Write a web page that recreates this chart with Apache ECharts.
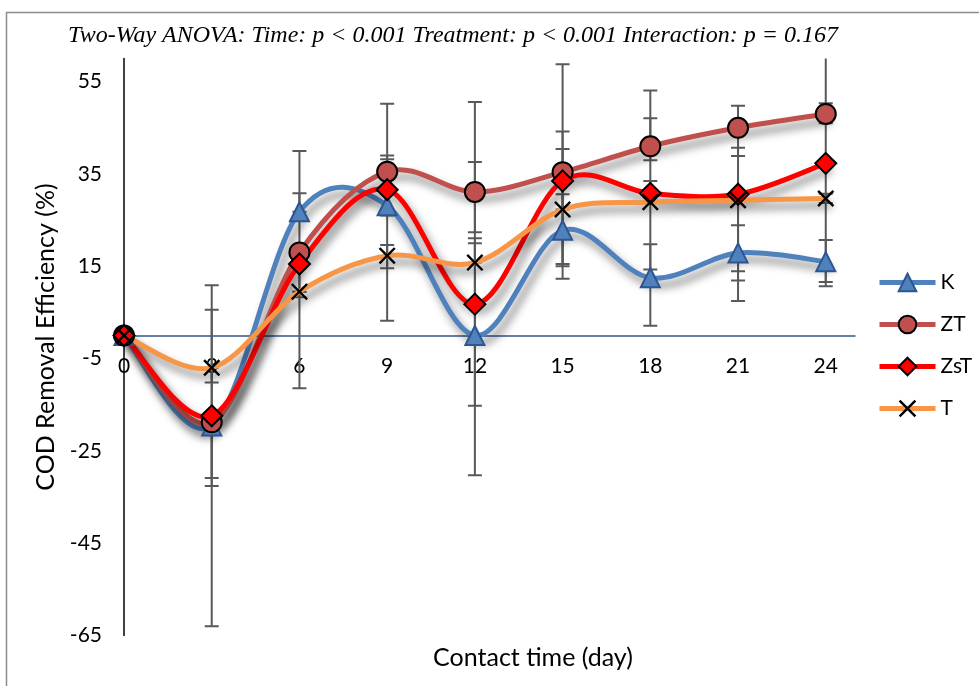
<!DOCTYPE html>
<html>
<head>
<meta charset="utf-8">
<script src="https://cdn.jsdelivr.net/npm/echarts@6/dist/echarts.min.js"></script>
<style>html,body{margin:0;padding:0;background:#fff}#c{width:979px;height:686px}</style>
</head>
<body>
<div id="c"></div>
<script>
var days = [0, 3, 6, 9, 12, 15, 18, 21, 24];
var seriesNames = ['K', 'ZT', 'ZsT', 'T'];
var K   = [0, -19.6, 26.8, 28.1, 0.0, 22.8, 12.5, 17.9, 16.0];
var ZT  = [0, -18.8, 18.0, 35.5, 31.1, 35.4, 41.0, 45.0, 48.0];
var ZsT = [0, -17.4, 15.5, 31.6, 6.8, 33.5, 30.8, 30.6, 37.3];
var T   = [0, -7.0, 9.5, 17.3, 15.8, 27.3, 28.9, 29.3, 29.7];
// error bar ends (low / high)
var K_low   = [0, -63.0, 26.8, 3.2, -30.3, 12.3, 2.1, 7.5, 10.7];
var K_high  = [0, 10.9, 40.0, 50.2, 37.6, 30.6, 19.8, 23.9, 20.7];
var ZT_low  = [0, -32.6, 8.3, 31.7, 22.4, 15.0, 38.0, 38.9, 46.0];
var ZT_high = [0, 5.6, 30.8, 39.0, 50.6, 58.8, 47.1, 49.8, 50.3];
var ZsT_low = [0, -30.9, -11.4, 26.0, -15.2, 15.5, 30.8, 13.9, 11.6];
var ZsT_high= [0, -17.4, 15.5, 38.2, 21.1, 44.2, 53.1, 40.7, 63.0];
var T_low   = [0, -10.2, 9.5, 14.6, 15.8, 27.3, 14.3, 11.9, 28.7];
var T_high  = [0, -7.0, 9.5, 19.6, 20.0, 40.4, 33.5, 29.3, 30.7];
var yTicks = [-65, -45, -25, -5, 15, 35, 55];

var chart = echarts.init(document.getElementById('c'), null, {renderer: 'canvas'});
var FONT = 'Lato';
var vals = [K, ZT, ZsT, T];
var lows = [K_low, ZT_low, ZsT_low, T_low];
var highs = [K_high, ZT_high, ZsT_high, T_high];
var colors = ['#4F81BD', '#C0504D', '#FF0000', '#F79646'];
var symbols = ['triangle', 'circle', 'diamond',
  'path://M0,1 L1,0 L5,4 L9,0 L10,1 L6,5 L10,9 L9,10 L5,6 L1,10 L0,9 L4,5 Z'];
var symSizes = [19, 20, 21, 17];
var symFill = ['#4F81BD', '#C0504D', '#FF0000', '#000000'];
var symBorder = ['#2C5591', '#000000', '#000000', '#000000'];

var errData = [];
for (var s = 0; s < 4; s++) {
  for (var i = 0; i < days.length; i++) {
    errData.push([days[i], lows[s][i], highs[s][i]]);
  }
}

var series = [{
  type: 'custom',
  name: 'err',
  clip: true,
  z: 1,
  silent: true,
  renderItem: function (params, api) {
    var x = api.value(0);
    var lo = api.coord([x, api.value(1)]);
    var hi = api.coord([x, api.value(2)]);
    var hw = 7;
    var st = {stroke: '#595959', lineWidth: 2};
    return {
      type: 'group',
      children: [
        {type: 'line', shape: {x1: lo[0], y1: lo[1], x2: hi[0], y2: hi[1]}, style: st},
        {type: 'line', shape: {x1: lo[0] - hw, y1: lo[1], x2: lo[0] + hw, y2: lo[1]}, style: st},
        {type: 'line', shape: {x1: hi[0] - hw, y1: hi[1], x2: hi[0] + hw, y2: hi[1]}, style: st}
      ]
    };
  },
  encode: {x: 0, y: [1, 2]},
  data: errData
}];

function makeCurveRenderer(color) {
  return function (params, api) {
    if (params.dataIndexInside !== 0) return null;
    var n = params.dataInsideLength;
    var p = [];
    for (var k = 0; k < n; k++) p.push(api.coord([api.value(0, k), api.value(1, k)]));
    var str = 'M' + p[0][0] + ' ' + p[0][1];
    for (var k2 = 0; k2 < n - 1; k2++) {
      var p0 = p[Math.max(0, k2 - 1)], p1 = p[k2], p2 = p[k2 + 1], p3 = p[Math.min(n - 1, k2 + 2)];
      var c1x = p1[0] + (p2[0] - p0[0]) / 6, c1y = p1[1] + (p2[1] - p0[1]) / 6;
      var c2x = p2[0] - (p3[0] - p1[0]) / 6, c2y = p2[1] - (p3[1] - p1[1]) / 6;
      str += ' C' + c1x + ' ' + c1y + ' ' + c2x + ' ' + c2y + ' ' + p2[0] + ' ' + p2[1];
    }
    return {
      type: 'path',
      shape: {pathData: str},
      style: {fill: 'none', stroke: color, lineWidth: 5, lineJoin: 'round', lineCap: 'round',
        shadowColor: 'rgba(0,0,0,0.5)', shadowBlur: 9, shadowOffsetX: 4, shadowOffsetY: 7}
    };
  };
}

var legendData = [];
for (var s2 = 0; s2 < 4; s2++) {
  var d = [];
  for (var j = 0; j < days.length; j++) d.push([days[j], vals[s2][j]]);
  series.push({
    type: 'custom',
    name: seriesNames[s2] + '_curve',
    clip: true,
    silent: true,
    z: 2 + s2,
    encode: {x: 0, y: 1},
    renderItem: makeCurveRenderer(colors[s2]),
    data: d
  });
  series.push({
    type: 'line',
    name: seriesNames[s2],
    data: d,
    z: 10 + s2,
    symbol: symbols[s2],
    symbolSize: symSizes[s2],
    showAllSymbol: true,
    lineStyle: {color: colors[s2], width: 0, opacity: 0},
    itemStyle: {color: symFill[s2], borderColor: symBorder[s2], borderWidth: s2 === 3 ? 0 : 2, opacity: 1},
    emphasis: {disabled: true}
  });
  legendData.push({name: seriesNames[s2], lineStyle: {color: colors[s2], width: 5, opacity: 1}});
}

chart.setOption({
  animation: false,
  backgroundColor: '#ffffff',
  title: {
    text: 'Two-Way ANOVA: Time: p < 0.001 Treatment: p < 0.001 Interaction: p = 0.167',
    left: 448, top: 19, textAlign: 'center',
    textStyle: {fontFamily: 'Liberation Serif', fontStyle: 'italic', fontWeight: 'normal', fontSize: 24, color: '#000'}
  },
  legend: {
    orient: 'vertical', left: 872, top: 267, itemGap: 21,
    itemWidth: 56, itemHeight: 22,
    data: legendData,
    textStyle: {fontFamily: FONT, fontSize: 21, color: '#000'}
  },
  grid: {left: 124, right: 124, top: 58.6, bottom: 50.5, containLabel: false},
  xAxis: {
    type: 'value', min: 0, max: 25, interval: 3,
    position: 'bottom', offset: -299.9,
    axisLine: {onZero: false, lineStyle: {color: '#34568B', width: 1.5}},
    axisTick: {show: false},
    splitLine: {show: false},
    axisLabel: {
      margin: 20, fontFamily: FONT, fontSize: 21, color: '#000',
      formatter: function (v) { return days.indexOf(v) >= 0 ? String(v) : ''; }
    }
  },
  yAxis: {
    type: 'value', min: -65, max: 60, interval: 20,
    axisLine: {show: true, onZero: false, lineStyle: {color: '#000', width: 1.5}},
    axisTick: {show: false},
    splitLine: {show: false},
    axisLabel: {
      margin: 22, fontFamily: FONT, fontSize: 21, color: '#000',
      formatter: function (v) { return yTicks.indexOf(v) >= 0 ? String(v) : ''; }
    }
  },
  graphic: [
    {type: 'rect', left: 4, top: 10, shape: {width: 990, height: 700}, style: {fill: 'none', stroke: '#8c8c8c', lineWidth: 1.5}, z: -10, silent: true},
    {type: 'text', x: 533, y: 658, style: {text: 'Contact time (day)', font: '25px Lato', fill: '#000', textAlign: 'center', textVerticalAlign: 'middle'}},
    {type: 'text', x: 46, y: 337, rotation: Math.PI / 2, style: {text: 'COD Removal Efficiency (%)', font: '25px Lato', fill: '#000', textAlign: 'center', textVerticalAlign: 'middle'}}
  ],
  series: series
});
</script>
</body>
</html>
